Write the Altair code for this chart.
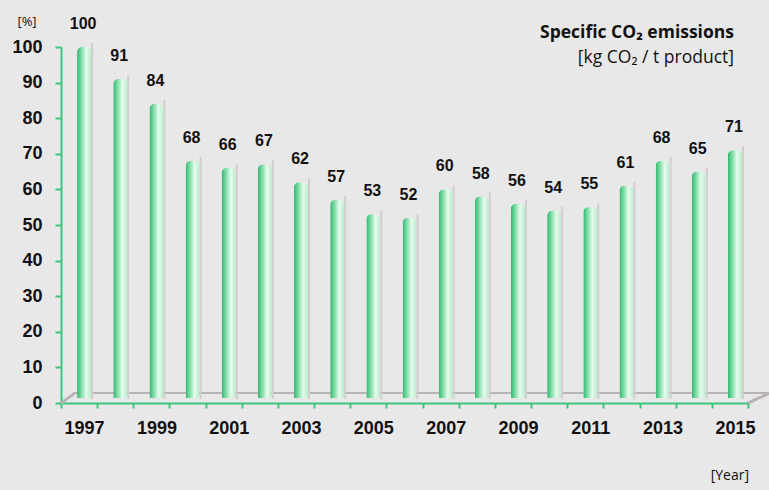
import altair as alt
import pandas as pd

years = [str(y) for y in range(1997, 2016)]
values = [100, 91, 84, 68, 66, 67, 62, 57, 53, 52, 60, 58, 56, 54, 55, 61, 68, 65, 71]

df = pd.DataFrame({"year": years, "value": values})

GREEN = "#3cc47c"
BG = "#e8e8e8"
W, H = 687, 356

x_enc = alt.X(
    "year:O",
    scale=alt.Scale(paddingInner=0, paddingOuter=0),
    axis=alt.Axis(
        title=None,
        labelAngle=0,
        labelExpr="toNumber(datum.value) % 2 == 1 ? datum.label : ''",
        labelFont="Liberation Sans",
        labelFontWeight="bold",
        labelFontSize=18,
        labelColor="#111111",
        labelPadding=11,
        labelOffset=5,
        tickBand="extent",
        tickColor=GREEN,
        tickSize=5,
        tickWidth=2,
        domainColor=GREEN,
        domainWidth=2,
        grid=False,
    ),
)
y_enc = alt.Y(
    "value:Q",
    scale=alt.Scale(domain=[0, 100], nice=False),
    axis=alt.Axis(
        title=None,
        values=list(range(0, 101, 10)),
        labelFont="Liberation Sans",
        labelFontWeight="bold",
        labelFontSize=18,
        labelColor="#111111",
        labelPadding=13,
        tickColor=GREEN,
        tickSize=6,
        tickWidth=2,
        domainColor=GREEN,
        domainWidth=2,
        grid=False,
    ),
)

base = alt.Chart(df)

shadow = base.mark_bar(width=2, xOffset=13, yOffset=-4, color="#d2cdd0").encode(
    x=x_enc, y=y_enc
)

bar_gradient = alt.Gradient(
    gradient="linear",
    x1=0, x2=1, y1=0, y2=0,
    stops=[
        alt.GradientStop(color="#2fb86c", offset=0),
        alt.GradientStop(color="#7ddca4", offset=0.3),
        alt.GradientStop(color="#e6fbee", offset=0.65),
        alt.GradientStop(color="#b6ecc9", offset=1),
    ],
)
bars = base.mark_bar(
    width=14, xOffset=5, yOffset=-5, color=bar_gradient,
    cornerRadiusTopLeft=5, cornerRadiusTopRight=5,
).encode(x=x_enc, y=y_enc)

labels = base.mark_text(
    font="Liberation Sans", fontWeight="bold", fontSize=16, color="#111111",
    baseline="middle", xOffset=4, yOffset=-23,
).encode(x=x_enc, y=y_enc, text="value:Q")

floor_back = alt.Chart(df).mark_rule(color="#b9b3b7", strokeWidth=2).encode(
    x=alt.value(14), x2=alt.value(709), y=alt.value(H - 10)
)
floor_left = alt.Chart(df).mark_rule(color="#b9b3b7", strokeWidth=2).encode(
    x=alt.value(0), x2=alt.value(14), y=alt.value(H), y2=alt.value(H - 10)
)
floor_right = alt.Chart(df).mark_rule(color="#b9b3b7", strokeWidth=2).encode(
    x=alt.value(687), x2=alt.value(709), y=alt.value(H), y2=alt.value(H - 10)
)

def txt(s, x, y, size, weight="normal", align="right", font="Open Sans"):
    return alt.Chart(pd.DataFrame({"t": [s]})).mark_text(
        font=font, fontSize=size, fontWeight=weight, align=align,
        baseline="middle", color="#111111",
    ).encode(x=alt.value(x), y=alt.value(y), text="t:N")

title1 = txt("Specific CO₂ emissions", 673, -14, 17.5, "bold")
title2 = txt("[kg CO₂  / t product]", 673, 11, 17.5)
pct = txt("[%]", -34, -25, 13, align="center")
year_lbl = txt("[Year]", 688, 429, 14)

chart = alt.layer(
    floor_back, floor_left, floor_right, shadow, bars, labels,
    title1, title2, pct, year_lbl,
).properties(
    width=W, height=H,
    autosize=alt.AutoSizeParams(type="none"),
    padding={"left": 61, "top": 47, "right": 21, "bottom": 87},
    background=BG,
).configure_view(stroke=None, fill=BG)

chart.save("out.html", embed_options={"renderer": "svg", "actions": False})
